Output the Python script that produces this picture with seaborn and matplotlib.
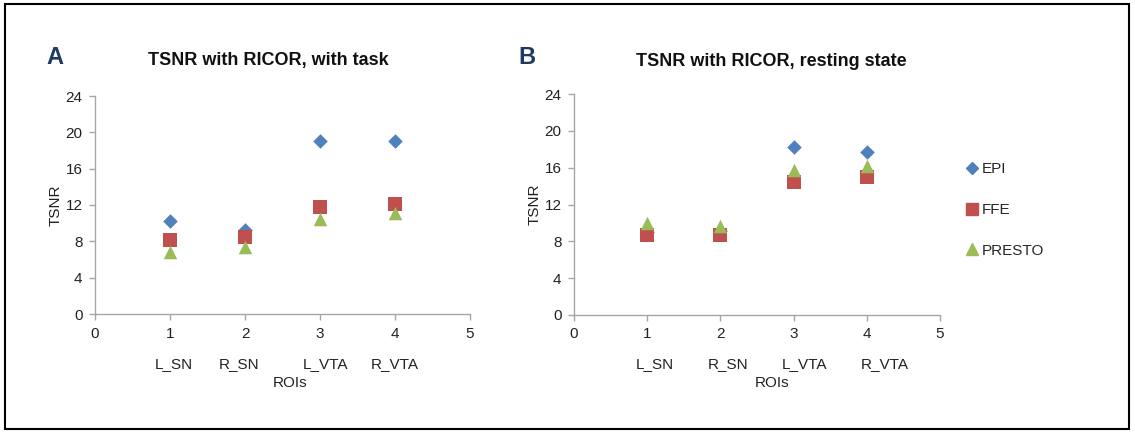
import matplotlib
matplotlib.use("Agg")
import matplotlib.pyplot as plt
import matplotlib.transforms as mtransforms
from matplotlib.patches import Rectangle
import seaborn as sns
import pandas as pd

# ROI positions and names
roi_pos = [1, 2, 3, 4]
roi_names = ["L_SN", "R_SN", "L_VTA", "R_VTA"]
sequences = ["EPI", "FFE", "PRESTO"]

# TSNR with RICOR, with task
task_epi = [10.2, 9.2, 19.1, 19.05]
task_ffe = [8.2, 8.5, 11.8, 12.1]
task_presto = [6.8, 7.4, 10.5, 11.1]

# TSNR with RICOR, resting state
rest_epi = [9.0, 9.1, 18.2, 17.75]
rest_ffe = [8.7, 8.7, 14.4, 15.0]
rest_presto = [10.0, 9.7, 15.8, 16.2]

palette = {"EPI": "#4F81BD", "FFE": "#C0504D", "PRESTO": "#9BBB59"}
markers = {"EPI": "D", "FFE": "s", "PRESTO": "^"}
sizes = {"EPI": 55, "FFE": 90, "PRESTO": 95}


def to_frame(epi, ffe, presto):
    rows = []
    for name, vals in zip(sequences, [epi, ffe, presto]):
        for x, v in zip(roi_pos, vals):
            rows.append({"ROI": x, "TSNR": v, "Sequence": name})
    return pd.DataFrame(rows)


sns.set_theme(style="white")
plt.rcParams["font.family"] = ["Liberation Sans", "DejaVu Sans"]

fig = plt.figure(figsize=(11.35, 4.32), dpi=100)
W, H = 1135, 432


def px_axes(left, top, right, bottom):
    return fig.add_axes([left / W, 1 - bottom / H, (right - left) / W, (bottom - top) / H])


axA = px_axes(95, 96, 470, 314)
axB = px_axes(574, 94, 940, 315)

# hand-placed ROI name boxes sit slightly off the tick positions
panels = [
    (axA, to_frame(task_epi, task_ffe, task_presto), "TSNR with RICOR, with task", "A",
     268, 55, [0.05, -0.08, 0.07, 0.0], 2.6),
    (axB, to_frame(rest_epi, rest_ffe, rest_presto), "TSNR with RICOR, resting state", "B",
     771, 527, [0.1, 0.1, 0.15, 0.25], 2.7),
]

grey = "#A6A6A6"
txt = "#222222"
for ax, df, title, letter, title_x, letter_x, name_shift, roi_x in panels:
    for name in sequences:
        sub = df[df["Sequence"] == name]
        sns.scatterplot(data=sub, x="ROI", y="TSNR", ax=ax, color=palette[name],
                        marker=markers[name], s=sizes[name], linewidth=0,
                        label=name, legend=False, zorder=3)
    ax.set_xlim(0, 5)
    ax.set_ylim(0, 24)
    ax.set_xticks(range(0, 6))
    ax.set_yticks(range(0, 25, 4))
    ax.set_xlabel("")
    ax.set_ylabel("TSNR", fontsize=11, color=txt, labelpad=2)
    for side in ["top", "right"]:
        ax.spines[side].set_visible(False)
    for side in ["left", "bottom"]:
        ax.spines[side].set_color(grey)
        ax.spines[side].set_linewidth(1.0)
    ax.tick_params(axis="both", direction="out", length=4, width=1, color=grey,
                   labelsize=11, labelcolor=txt, pad=5, left=True, bottom=True)
    trans = mtransforms.blended_transform_factory(ax.transData, fig.transFigure)
    for x, name, dx in zip(roi_pos, roi_names, name_shift):
        ax.text(x + dx, 1 - 364 / H, name, transform=trans, ha="center", va="center",
                fontsize=11, color=txt)
    ax.text(roi_x, 1 - 383 / H, "ROIs", transform=trans, ha="center", va="center",
            fontsize=11, color=txt)
    fig.text(title_x / W, 1 - 61 / H, title, ha="center", va="center", fontsize=13,
             fontweight="bold", color="#111111")
    fig.text(letter_x / W, 1 - 57 / H, letter, ha="center", va="center", fontsize=17,
             fontweight="bold", color="#1F3864")

# legend to the right of panel B
handles = [plt.Line2D([], [], linestyle="none", marker=markers[n], color=palette[n],
                      markersize=8 if n != "EPI" else 6.5) for n in sequences]
fig.legend(handles, sequences, loc="center left", bbox_to_anchor=(960 / W, 1 - 210 / H),
           frameon=False, fontsize=11, handlelength=0.6, handletextpad=0.3,
           labelspacing=1.75, borderpad=0)

fig.patches.append(Rectangle((5 / W, 3 / H), 1124 / W, 425 / H, transform=fig.transFigure,
                             fill=False, edgecolor="black", linewidth=1.5))

fig.savefig("out.png", dpi=100, facecolor="white")
